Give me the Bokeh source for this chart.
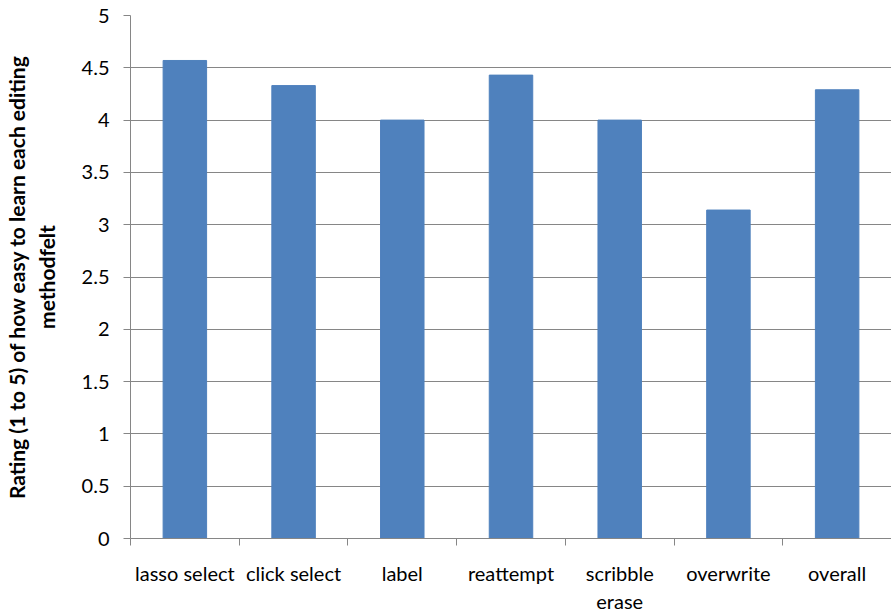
from bokeh.plotting import figure
from bokeh.models import FixedTicker, Range1d, ColumnDataSource
from bokeh.embed import file_html
from bokeh.resources import INLINE
import numpy as np

categories = ["lasso select", "click select", "label", "reattempt",
              "scribble\nerase", "overwrite", "overall"]
ratings = [4.57, 4.33, 4.0, 4.43, 4.0, 3.14, 4.29]
y_ticks = [0, 0.5, 1, 1.5, 2, 2.5, 3, 3.5, 4, 4.5, 5]
y_tick_labels = ["0", "0.5", "1", "1.5", "2", "2.5", "3", "3.5", "4", "4.5", "5"]
y_title = "Rating (1 to 5) of how easy to learn each editing\nmethodfelt"

FONT = "Lato"

n = len(categories)
centers = (np.arange(n) + 0.5).tolist()
src = ColumnDataSource(dict(x=centers, top=ratings))

p = figure(width=891, height=616, output_backend="svg", toolbar_location=None,
           x_range=Range1d(0, n), y_range=Range1d(0, 5),
           min_border_left=127, min_border_right=0, min_border_top=15,
           min_border_bottom=77)
p.outline_line_color = None
p.background_fill_color = "white"
p.border_fill_color = "white"

p.vbar(x="x", top="top", width=0.4, source=src, fill_color="#4F81BD",
       line_color="#4F81BD")

# x axis
xt = FixedTicker(ticks=centers, minor_ticks=list(range(n + 1)))
p.xaxis.ticker = xt
p.xaxis.major_label_overrides = {c: lab for c, lab in zip(centers, categories)}
p.xaxis.major_tick_line_color = None
p.xaxis.minor_tick_in = 0
p.xaxis.minor_tick_out = 7
p.xaxis.minor_tick_line_color = "#868686"
p.xaxis.axis_line_color = "#868686"
p.xaxis.major_label_standoff = 15
p.xaxis.major_label_text_font = FONT
p.xaxis.major_label_text_font_size = "20px"
p.xaxis.major_label_text_color = "#000000"
p.xgrid.grid_line_color = None

# y axis
p.yaxis.ticker = FixedTicker(ticks=y_ticks)
p.yaxis.major_label_overrides = {t: l for t, l in zip(y_ticks, y_tick_labels)}
p.yaxis.minor_tick_line_color = None
p.yaxis.major_tick_in = 0
p.yaxis.major_tick_out = 7
p.yaxis.major_tick_line_color = "#868686"
p.yaxis.axis_line_color = "#868686"
p.yaxis.major_label_standoff = 14
p.yaxis.major_label_text_font = FONT
p.yaxis.major_label_text_font_size = "20px"
p.yaxis.major_label_text_color = "#000000"
p.yaxis.axis_label = y_title
p.yaxis.axis_label_text_font = FONT
p.yaxis.axis_label_text_font_size = "21px"
p.yaxis.axis_label_text_font_style = "bold"
p.yaxis.axis_label_text_color = "#000000"
p.yaxis.axis_label_standoff = 20
p.ygrid.grid_line_color = "#868686"
p.ygrid.grid_line_width = 1

open("out.html", "w").write(file_html(p, INLINE))
